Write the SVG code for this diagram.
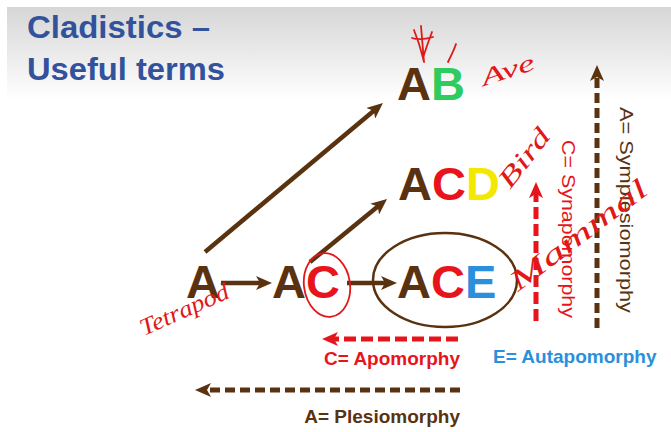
<svg xmlns="http://www.w3.org/2000/svg" width="671" height="432" viewBox="0 0 671 432">
<defs>
<linearGradient id="bg" x1="0" y1="0" x2="0" y2="1">
<stop offset="0" stop-color="#d6d6d6"/>
<stop offset="0.55" stop-color="#ececec"/>
<stop offset="1" stop-color="#ffffff"/>
</linearGradient>
<marker id="hb" viewBox="0 0 16 14" refX="6" refY="7" markerWidth="16" markerHeight="14" markerUnits="userSpaceOnUse" orient="auto">
<path d="M0,0 L16,7 L0,14 L4,7 z" fill="#5a3210"/>
</marker>
<marker id="hr" viewBox="0 0 16 14" refX="6" refY="7" markerWidth="16" markerHeight="14" markerUnits="userSpaceOnUse" orient="auto">
<path d="M0,0 L16,7 L0,14 L4,7 z" fill="#e8141c"/>
</marker>
</defs>
<style>
.big{font-family:"Liberation Sans",Arial,sans-serif;font-weight:bold;font-size:47px}
.br{fill:#5a3210}.rd{fill:#e8141c}.gr{fill:#2ecc5e}.yl{fill:#f4e800}.bl{fill:#2a8fdc}
.title{font-family:"Liberation Sans",Arial,sans-serif;font-weight:bold;font-size:31px;fill:#33529c}
.lab{font-family:"Liberation Sans",Arial,sans-serif;font-weight:bold;font-size:19px}
.vlab{font-family:"Liberation Sans",Arial,sans-serif;font-size:18px}
.solid{stroke:#5a3210;stroke-width:4.5;fill:none;marker-end:url(#hb)}
.dashb{stroke:#5a3210;stroke-width:5;fill:none;stroke-dasharray:10 5;marker-end:url(#hb)}
.dashr{stroke:#e8141c;stroke-width:5;fill:none;stroke-dasharray:12 5;marker-end:url(#hr)}
.hand{font-family:"Liberation Serif","DejaVu Serif",serif;font-style:italic;fill:#e01818}
.mark{stroke:#e01818;stroke-width:1.8;fill:none;stroke-linecap:round}
</style>
<rect x="0" y="0" width="671" height="432" fill="#ffffff"/>
<rect x="7" y="7" width="664" height="92" fill="url(#bg)"/>
<g id="title">
<text class="title" x="27" y="38" textLength="183" lengthAdjust="spacingAndGlyphs">Cladistics –</text>
<text class="title" x="27" y="80" textLength="198" lengthAdjust="spacingAndGlyphs">Useful terms</text>
</g>
<g id="connectors">
<line class="solid" x1="205" y1="252" x2="375.3" y2="109.4"/>
<line class="solid" x1="310" y1="262" x2="379.3" y2="205.3"/>
<line class="solid" x1="221" y1="283" x2="262" y2="283"/>
<line class="solid" x1="347" y1="283" x2="387" y2="283"/>
<line class="dashb" x1="597" y1="328" x2="597" y2="75"/>
<line class="dashr" x1="536" y1="321" x2="536" y2="192"/>
<line class="dashr" x1="458" y1="339" x2="332" y2="339"/>
<line class="dashb" x1="460" y1="390" x2="205" y2="390"/>
</g>
<g id="node-AB">
<text class="big" x="397" y="100"><tspan class="br">A</tspan><tspan class="gr">B</tspan></text>
</g>
<g id="node-ACD">
<text class="big" x="398" y="200"><tspan class="br">A</tspan><tspan class="rd">C</tspan><tspan class="yl">D</tspan></text>
</g>
<g id="node-A">
<text class="big br" x="186" y="298">A</text>
</g>
<g id="node-AC">
<text class="big" x="272" y="298"><tspan class="br">A</tspan><tspan class="rd">C</tspan></text>
</g>
<g id="node-ACE">
<ellipse cx="445" cy="280" rx="72" ry="47" fill="none" stroke="#5a3210" stroke-width="2.5"/>
<text class="big" x="397" y="298"><tspan class="br">A</tspan><tspan class="rd">C</tspan><tspan class="bl">E</tspan></text>
</g>
<g id="labels">
<text class="lab rd" x="460" y="365" text-anchor="end">C= Apomorphy</text>
<text class="lab bl" x="493" y="363">E= Autapomorphy</text>
<text class="lab br" x="460" y="423" text-anchor="end">A= Plesiomorphy</text>
<text class="vlab rd" transform="translate(562,140) rotate(90)" textLength="178" lengthAdjust="spacingAndGlyphs">C= Synapomorphy</text>
<text class="vlab br" transform="translate(620,107) rotate(90)" textLength="206" lengthAdjust="spacingAndGlyphs">A= Symplesiomorphy</text>
</g>
<g id="annotations">
<ellipse cx="327" cy="285" rx="23" ry="32" transform="rotate(-8 327 285)" class="mark"/>
<path class="mark" d="M421,26 C422,38 423,50 424,62 M412,38 C418,40 426,39 433,37 M414,30 C418,40 421,50 423,58 C426,48 429,40 432,32"/>
<path class="mark" d="M456,44 C454,50 451,56 448,62"/>
<text class="hand" font-size="24" transform="translate(484,86) rotate(-18)" textLength="55" lengthAdjust="spacingAndGlyphs">Ave</text>
<text class="hand" font-size="26" transform="translate(510,190) rotate(-52)" textLength="68" lengthAdjust="spacingAndGlyphs">Bird</text>
<text class="hand" font-size="24" transform="translate(144,336) rotate(-24)" textLength="95" lengthAdjust="spacingAndGlyphs">Tetrapod</text>
<text class="hand" font-size="28" transform="translate(518,292) rotate(-37)" textLength="165" lengthAdjust="spacingAndGlyphs">Mammal</text>
</g>
</svg>
